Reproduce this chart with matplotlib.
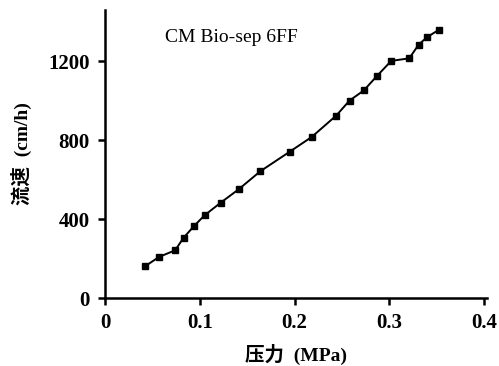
import matplotlib
matplotlib.use("Agg")
import matplotlib.pyplot as plt

# pressure (MPa) vs linear flow rate (cm/h), CM Bio-sep 6FF
pressure = [0.042, 0.057, 0.074, 0.083, 0.094, 0.105, 0.122, 0.141, 0.164,
            0.195, 0.218, 0.244, 0.258, 0.273, 0.287, 0.302, 0.321, 0.331,
            0.340, 0.352]
flow = [160, 208, 242, 306, 365, 419, 483, 551, 643,
        742, 816, 925, 1001, 1052, 1126, 1202, 1215, 1285,
        1323, 1359]

x_ticks = [0, 0.1, 0.2, 0.3, 0.4]
x_labels = ["0", "0.1", "0.2", "0.3", "0.4"]
y_ticks = [0, 400, 800, 1200]

fonts = ["Liberation Serif", "Noto Sans CJK SC", "DejaVu Sans"]
plt.rcParams["font.family"] = fonts

fig = plt.figure(figsize=(4.99, 3.66), dpi=100)
ax = fig.add_axes([105 / 499, (366 - 298) / 366, (487 - 105) / 499, (298 - 10) / 366])

ax.plot(pressure, flow, "-", color="black", linewidth=1.4)
ax.plot(pressure, flow, "s", color="black", markersize=4)

ax.set_xlim(0, 0.403)
ax.set_ylim(0, 1460)
ax.set_xticks(x_ticks)
ax.set_xticklabels(x_labels)
ax.set_yticks(y_ticks)

for s in ["top", "right"]:
    ax.spines[s].set_visible(False)
for s in ["left", "bottom"]:
    ax.spines[s].set_linewidth(1.8)

ax.tick_params(direction="out", length=5, width=1.8, labelsize=15)
ax.tick_params(axis="y", pad=6)
ax.tick_params(axis="x", pad=6)
for lab in ax.get_xticklabels() + ax.get_yticklabels():
    lab.set_fontweight("bold")

ax.text(0.063, 1320, "CM Bio-sep 6FF", fontsize=14, ha="left", va="center")

ax.set_xlabel("压力  (MPa)", fontsize=14, labelpad=8, fontweight="bold")
ax.set_ylabel("流速  (cm/h)", fontsize=14, labelpad=12, fontweight="bold")

fig.savefig("out.png", dpi=100)
